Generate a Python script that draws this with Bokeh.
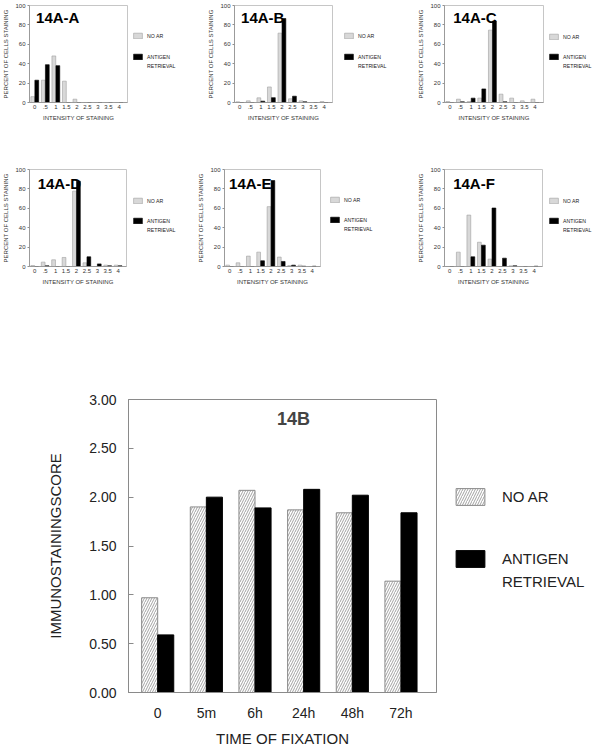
from bokeh.plotting import figure
from bokeh.layouts import column, row
from bokeh.models import (Legend, LegendItem, Label, FixedTicker, Range1d,
                          ColumnDataSource, Spacer)
from bokeh.transform import dodge
from bokeh.embed import file_html
from bokeh.resources import INLINE

# ---------------- data ----------------
intensity = [0, 0.5, 1, 1.5, 2, 2.5, 3, 3.5, 4]
intensity_labels = ["0", ".5", "1", "1.5", "2", "2.5", "3", "3.5", "4"]

panel_titles = ["14A-A", "14A-B", "14A-C", "14A-D", "14A-E", "14A-F"]

noar_A = [6, 23, 48, 22, 3.4, 0, 0, 0, 0]
ar_A = [23, 39, 38, 0, 0, 0, 0, 0, 0]
noar_B = [0.7, 1.7, 4.8, 16, 71.5, 3.8, 1.7, 0, 1]
ar_B = [0, 0, 1.4, 5, 86.6, 6.5, 0.7, 0, 0]
noar_C = [1, 3.4, 1, 4.5, 74.6, 8.6, 4.5, 1.7, 3.4]
ar_C = [0, 0.7, 4.5, 14, 84, 0.7, 0, 0, 0]
noar_D = [1, 4.5, 6.9, 9.3, 77.7, 3.8, 0, 1.4, 1.4]
ar_D = [0, 0.7, 0, 0, 88, 10, 2.7, 0.7, 0.7]
noar_E = [1.4, 3.8, 10.7, 14.8, 61.7, 9.7, 1, 1.4, 0]
ar_E = [0, 0, 0, 5.9, 88.6, 5.2, 1.4, 0.3, 0.3]
noar_F = [0, 14.8, 53, 25, 7.6, 0, 0.7, 0, 0]
ar_F = [0, 0, 10, 22, 60.3, 8.6, 0.7, 0, 0.3]

fixation_times = ["0", "5m", "6h", "24h", "48h", "72h"]
score_noar = [0.97, 1.90, 2.07, 1.87, 1.84, 1.14]
score_ar = [0.59, 2.00, 1.89, 2.08, 2.02, 1.84]

series_names = ["NO AR", "ANTIGEN RETRIEVAL"]

FONT = "Liberation Sans"

NOAR_SMALL = dict(fill_color="#d8d8d8", line_color="#a0a0a0", line_width=0.6)
AR_SMALL = dict(fill_color="black", line_color="black", line_width=0.6)
NOAR_BIG = dict(fill_color="white", line_color="#8a8a8a", line_width=1,
                hatch_pattern="/", hatch_color="#8a8a8a", hatch_scale=5, hatch_weight=0.8)
AR_BIG = dict(fill_color="black", line_color="black", line_width=1)
HIDDEN = dict(fill_alpha=0, line_alpha=0)


def _leg_fig(width, height, src, cols, styles, labels, glyph_w, glyph_h, font_size,
             standoff, spacing):
    lf = figure(width=width, height=height, x_range=Range1d(1000, 1001),
                y_range=Range1d(1000, 1001), output_backend="svg",
                toolbar_location=None, x_axis_type=None, y_axis_type=None, min_border=0)
    lf.grid.visible = False
    lf.outline_line_color = None
    lf.background_fill_color = "white"
    lf.border_fill_color = "white"
    items = []
    for c, st, lab in zip(cols, styles, labels):
        r = lf.vbar(x="x", top=c, width=0.1, source=src, **st)
        items.append(LegendItem(label=lab, renderers=[r]))
    leg = Legend(items=items, location="top_left", glyph_width=glyph_w,
                 glyph_height=glyph_h, label_height=glyph_h, label_width=10,
                 label_text_font=FONT, label_text_font_size=font_size,
                 label_text_color="#222222", label_text_baseline="middle",
                 label_standoff=standoff, spacing=spacing, padding=0, margin=0,
                 border_line_color=None, background_fill_alpha=0)
    lf.add_layout(leg)
    return lf


def legend_column(width, total_h, t1, t2, src, cols, st_noar, st_ar, glyph_w, glyph_h,
                  font_size, standoff, spacing2):
    ar_lines = series_names[1].split(" ")
    f1 = _leg_fig(width, t2 - t1, src, [cols[0]], [st_noar], [series_names[0]],
                  glyph_w, glyph_h, font_size, standoff, 0)
    f2 = _leg_fig(width, total_h - t2, src, [cols[1], cols[1]], [st_ar, HIDDEN],
                  ar_lines, glyph_w, glyph_h, font_size, standoff, spacing2)
    return column(Spacer(width=width, height=t1), f1, f2, spacing=0)


def small_panel(title, noar, ar, height, bl, fw, br, bb, tx, ty):
    p = figure(width=bl + fw + br, height=height, x_range=Range1d(-0.25, 4.4),
               y_range=Range1d(0, 100), output_backend="svg", toolbar_location=None,
               min_border_left=bl, min_border_right=br, min_border_top=5,
               min_border_bottom=bb)
    src = ColumnDataSource(dict(x=intensity, noar=noar, ar=ar))
    lab = Label(x=tx, y=ty, text=title, text_font=FONT, text_font_size="15px",
                text_font_style="bold", text_baseline="middle", text_color="black")
    lab.level = "underlay"
    p.add_layout(lab)
    p.vbar(x=dodge("x", -0.095, range=p.x_range), top="noar", width=0.18,
           bottom=0, source=src, **NOAR_SMALL)
    p.vbar(x=dodge("x", 0.095, range=p.x_range), top="ar", width=0.18,
           bottom=0, source=src, **AR_SMALL)
    p.grid.visible = False
    p.outline_line_color = "#b8b8b8"
    p.outline_line_width = 0.8
    p.xaxis.ticker = FixedTicker(ticks=intensity)
    p.xaxis.major_label_overrides = {v: s for v, s in zip(intensity, intensity_labels)}
    p.yaxis.ticker = FixedTicker(ticks=[0, 20, 40, 60, 80, 100])
    for ax in (p.xaxis[0], p.yaxis[0]):
        ax.axis_line_color = "#909090"
        ax.axis_line_width = 0.8
        ax.major_tick_line_color = "#909090"
        ax.minor_tick_line_color = None
        ax.major_label_text_font = FONT
        ax.major_label_text_font_size = "6px"
        ax.major_label_text_color = "#333333"
        ax.axis_label_text_font = FONT
        ax.axis_label_text_font_size = "6px"
        ax.axis_label_text_font_style = "normal"
        ax.axis_label_text_color = "#333333"
        ax.major_label_standoff = 2
        ax.axis_label_standoff = 3
    p.xaxis.major_tick_out = 0
    p.xaxis.major_tick_in = 0
    p.yaxis.major_tick_out = 2
    p.yaxis.major_tick_in = 0
    p.xaxis.axis_label = "INTENSITY OF STAINING"
    p.yaxis.axis_label = "PERCENT OF CELLS STAINING"
    p.background_fill_color = "white"
    p.border_fill_color = "white"
    return p, src


H1, H2 = 164, 223
SC = ["noar", "ar"]


def small_block(title, noar, ar, height, bl, fw, br, bb, tx, ty, total_w, t1, t2):
    p, src = small_panel(title, noar, ar, height, bl, fw, br, bb, tx, ty)
    lc = legend_column(total_w - p.width, height, t1, t2, src, SC, NOAR_SMALL, AR_SMALL,
                       11, 7, "5.2px", 4, 2)
    return [p, lc]


row1 = (small_block(panel_titles[0], noar_A, ar_A, H1, 29, 98, 5, 62, 0.06, 87.6, 195, 32, 53)
        + small_block(panel_titles[1], noar_B, ar_B, H1, 39, 98, 11, 62, 0.06, 87.6, 200, 32, 53)
        + small_block(panel_titles[2], noar_C, ar_C, H1, 49, 99, 5, 62, 0.16, 87.6, 199, 33, 53))
row2 = (small_block(panel_titles[3], noar_D, ar_D, H2, 27, 99, 6, 121, 0.14, 85.5, 195, 33, 53)
        + small_block(panel_titles[4], noar_E, ar_E, H2, 28, 97, 9, 121, -0.03, 85.5, 200, 32, 52)
        + small_block(panel_titles[5], noar_F, ar_F, H2, 49, 98, 6, 121, 0.16, 85.5, 199, 33, 53))

# ---------------- big chart ----------------
xs = list(range(len(fixation_times)))
HB = 362
big = figure(width=452, height=HB, x_range=Range1d(-0.6, 5.73), y_range=Range1d(0, 3),
             output_backend="svg", toolbar_location=None, min_border_left=128,
             min_border_right=16, min_border_top=12, min_border_bottom=57)
bsrc = ColumnDataSource(dict(x=xs, noar=score_noar, ar=score_ar))
big.vbar(x=dodge("x", -0.165, range=big.x_range), top="noar", width=0.33, bottom=0,
         source=bsrc, **NOAR_BIG)
big.vbar(x=dodge("x", 0.165, range=big.x_range), top="ar", width=0.33, bottom=0,
         source=bsrc, **AR_BIG)
big.add_layout(Label(x=2.79, y=2.8, text="14B", text_font=FONT, text_font_size="18px",
                     text_font_style="bold", text_align="center", text_baseline="middle"))
big.grid.visible = False
big.outline_line_color = "#8a8a8a"
big.outline_line_width = 1
big.xaxis.ticker = FixedTicker(ticks=xs)
big.xaxis.major_label_overrides = {i: s for i, s in zip(xs, fixation_times)}
big.yaxis.ticker = FixedTicker(ticks=[0, 0.5, 1, 1.5, 2, 2.5, 3])
big.yaxis.major_label_overrides = {0: "0.00", 0.5: "0.50", 1: "1.00", 1.5: "1.50",
                                   2: "2.00", 2.5: "2.50", 3: "3.00"}
for ax in (big.xaxis[0], big.yaxis[0]):
    ax.axis_line_color = "#8a8a8a"
    ax.axis_line_width = 1
    ax.major_tick_line_color = "#8a8a8a"
    ax.minor_tick_line_color = None
    ax.major_label_text_font = FONT
    ax.major_label_text_font_size = "14px"
    ax.major_label_text_color = "#222222"
    ax.axis_label_text_font = FONT
    ax.axis_label_text_font_size = "15px"
    ax.axis_label_text_font_style = "normal"
    ax.axis_label_text_color = "#222222"
big.xaxis.major_tick_out = 0
big.xaxis.major_tick_in = 0
big.xaxis.major_label_standoff = 12
big.xaxis.axis_label_standoff = 6
big.yaxis.major_tick_out = 0
big.yaxis.major_tick_in = 5
big.yaxis.major_label_standoff = 12
big.yaxis.axis_label_standoff = 22
big.xaxis.axis_label = "TIME OF FIXATION"
big.yaxis.axis_label = "IMMUNOSTAININGSCORE"
big.background_fill_color = "white"
big.border_fill_color = "white"
lBig = legend_column(594 - big.width, HB, 99, 161, bsrc, SC, NOAR_BIG, AR_BIG,
                     36, 21, "15px", 14, 2)

layout = column(row(*row1, spacing=0), row(*row2, spacing=0),
                row(big, lBig, spacing=0), spacing=0)

open("out.html", "w").write(file_html(layout, INLINE))
